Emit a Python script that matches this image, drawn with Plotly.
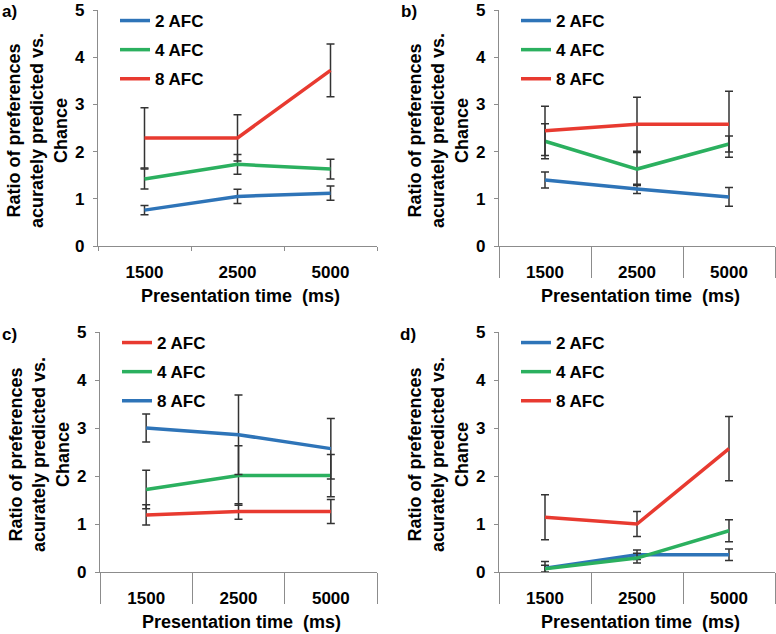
import plotly.graph_objects as go

W, H = 776, 634

times = ["1500", "2500", "5000"]
series_names = ["2 AFC", "4 AFC", "8 AFC"]

BLUE = "#2e74b8"
GREEN = "#2bb05f"
RED = "#e83a30"

# panel a
a_vals = [[0.76, 1.05, 1.12], [1.42, 1.73, 1.63], [2.29, 2.29, 3.72]]
a_errs = [[0.10, 0.15, 0.15], [0.21, 0.21, 0.21], [0.64, 0.49, 0.56]]
a_colors = [BLUE, GREEN, RED]

# panel b
b_vals = [[1.40, 1.21, 1.04], [2.22, 1.63, 2.16], [2.44, 2.58, 2.58]]
b_errs = [[0.17, 0.10, 0.20], [0.37, 0.35, 0.17], [0.52, 0.57, 0.70]]
b_colors = [BLUE, GREEN, RED]

# panel c
c_vals = [[1.19, 1.26, 1.26], [1.72, 2.01, 2.01], [3.00, 2.86, 2.57]]
c_errs = [[0.21, 0.16, 0.25], [0.40, 0.62, 0.44], [0.29, 0.83, 0.63]]
c_colors = [RED, GREEN, BLUE]

# panel d
d_vals = [[0.08, 0.36, 0.36], [0.07, 0.29, 0.86], [1.14, 1.00, 2.57]]
d_errs = [[0.14, 0.10, 0.12], [0.07, 0.10, 0.23], [0.47, 0.26, 0.67]]
d_colors = [BLUE, GREEN, RED]

# label, values, errors, colours, plot box (px), label x, long separators
panels = [
    ("a)", a_vals, a_errs, a_colors, (98, 377, 10, 246), 0, False),
    ("b)", b_vals, b_errs, b_colors, (499, 775, 10, 246), 399, True),
    ("c)", c_vals, c_errs, c_colors, (100, 377, 332, 572), 0, True),
    ("d)", d_vals, d_errs, d_colors, (499, 775, 332, 572), 398, True),
]

FONT = "Liberation Sans, Arial, sans-serif"
AXIS_COL = "#8c8c8c"

fig = go.Figure()
layout = dict(
    width=W, height=H,
    margin=dict(l=0, r=0, t=0, b=0),
    paper_bgcolor="white", plot_bgcolor="white",
    font=dict(family=FONT, size=17, color="black"),
    showlegend=True,
)
annotations = []

for i, (lab, vals, errs, cols, (x0, x1, ytop, ybot), lab_x, long_sep) in enumerate(panels):
    n = i + 1
    xa = "x" if n == 1 else f"x{n}"
    ya = "y" if n == 1 else f"y{n}"
    leg = "legend" if n == 1 else f"legend{n}"
    xkey = "xaxis" if n == 1 else f"xaxis{n}"
    ykey = "yaxis" if n == 1 else f"yaxis{n}"

    for k, name in enumerate(series_names):
        fig.add_trace(go.Scatter(
            x=[0, 1, 2], y=vals[k], name=name, mode="lines",
            line=dict(color=cols[k], width=3.5),
            error_y=dict(type="data", array=errs[k], color="#333333",
                         thickness=1.5, width=4),
            xaxis=xa, yaxis=ya, legend=leg, legendgroup=f"{n}-{k}",
        ))

    layout[xkey] = dict(
        domain=[x0 / W, x1 / W], anchor=ya, range=[-0.5, 2.5],
        tickvals=[0, 1, 2], ticktext=times, ticks="",
        showgrid=False, zeroline=False, showline=True, automargin=False,
        linecolor=AXIS_COL, linewidth=1.3,
        tickfont=dict(size=17, family=FONT, weight="bold"),
        ticklabelstandoff=10,
        minor=dict(tickvals=[-0.5, 0.5, 1.5, 2.5], ticks="outside",
                   ticklen=31 if long_sep else 4, tickcolor=AXIS_COL,
                   tickwidth=1.3, showgrid=False),
    )
    layout[ykey] = dict(
        domain=[1 - ybot / H, 1 - ytop / H], anchor=xa, range=[0, 5],
        dtick=1, ticks="outside", ticklen=4, tickcolor=AXIS_COL, tickwidth=1.3,
        showgrid=False, zeroline=False, showline=True, automargin=False,
        linecolor=AXIS_COL, linewidth=1.3,
        tickfont=dict(size=17, family=FONT, weight="bold"),
        ticklabelstandoff=5, ticklabeloverflow="allow",
    )
    layout[leg] = dict(
        x=(x0 + 17) / W, y=1 - (ytop - 7) / H, xanchor="left", yanchor="top",
        bgcolor="rgba(0,0,0,0)", tracegroupgap=4,
        font=dict(size=17, family=FONT, weight="bold"),
        itemwidth=30,
    )

    # panel label
    annotations.append(dict(
        text=f"<b>{lab}</b>", x=lab_x / W, y=1 - (ytop + 2) / H,
        xref="paper", yref="paper", xanchor="left", yanchor="middle",
        showarrow=False, font=dict(size=17, family=FONT),
    ))
    # y title
    annotations.append(dict(
        text="<b>Ratio of preferences<br>acurately predicted vs.<br>Chance</b>",
        x=(x0 - 61) / W, y=1 - ((ytop + ybot) / 2 + 3) / H,
        xref="paper", yref="paper", xanchor="center", yanchor="middle",
        textangle=-90, showarrow=False,
        font=dict(size=18, family=FONT),
    ))
    # x title
    annotations.append(dict(
        text="<b>Presentation time  (ms)</b>",
        x=((x0 + x1) / 2 + 3) / W, y=1 - (ybot + 50) / H,
        xref="paper", yref="paper", xanchor="center", yanchor="middle",
        showarrow=False, font=dict(size=18, family=FONT),
    ))

layout["annotations"] = annotations
fig.update_layout(**layout)
# the page's default body margin would push the figure 8px down/right
fig.write_html("out.html", config={"displayModeBar": False},
               post_script="document.body.style.margin = '0px';")
